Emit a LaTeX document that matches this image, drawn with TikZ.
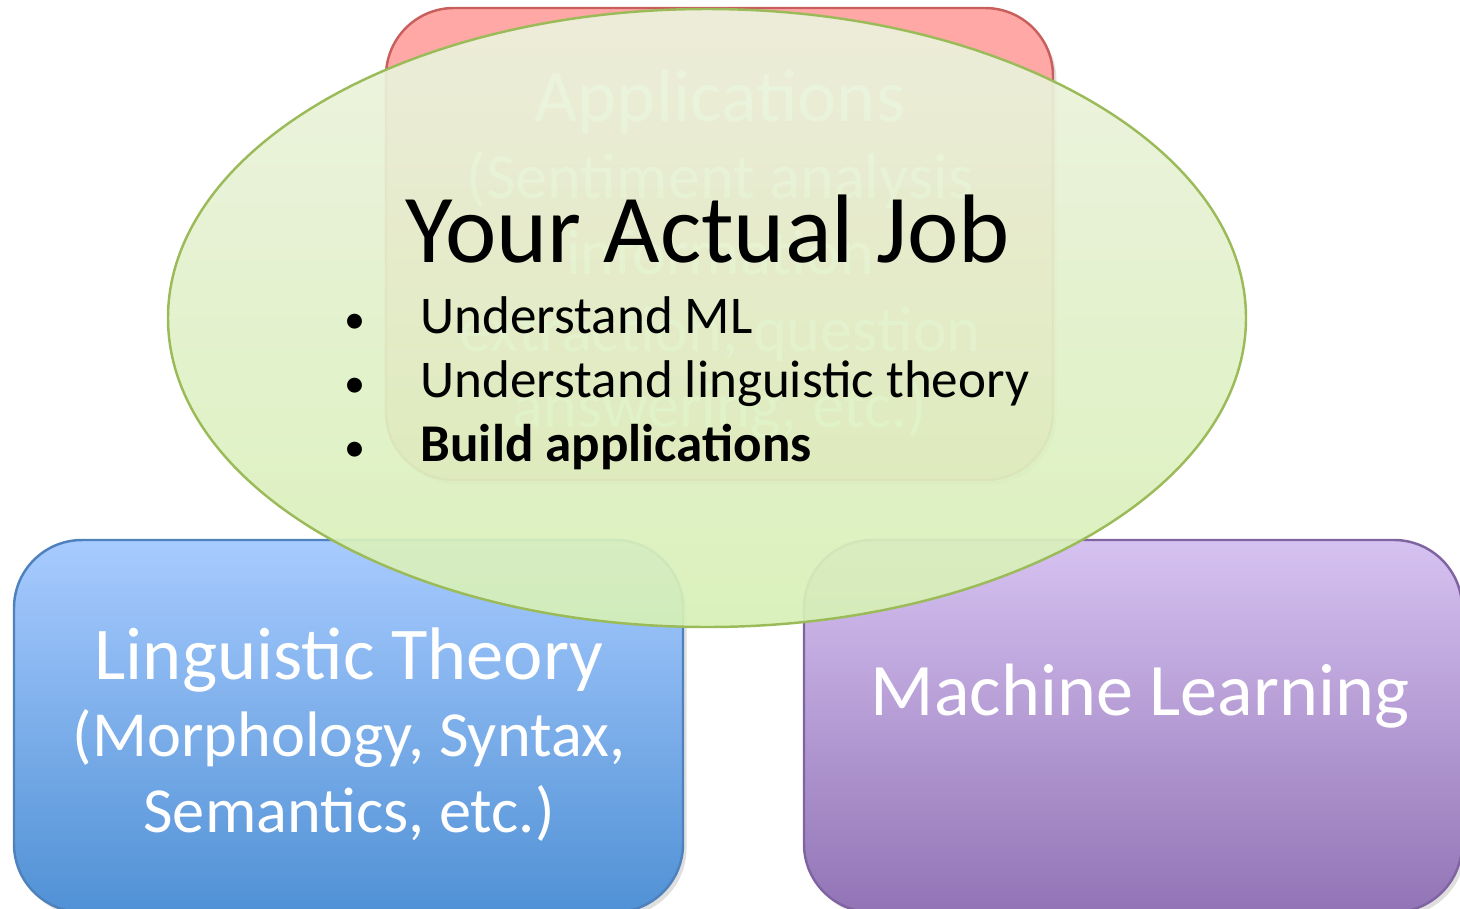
\documentclass[tikz,border=0pt]{standalone}
\usepackage{fontspec}
\setmainfont{Carlito}
\usetikzlibrary{shapes.geometric,shadows}
\definecolor{appred}{RGB}{255,168,166}
\definecolor{appredline}{RGB}{200,95,92}
\definecolor{lingtop}{RGB}{168,203,255}
\definecolor{lingbot}{RGB}{80,145,213}
\definecolor{lingline}{RGB}{79,129,189}
\definecolor{mltop}{RGB}{214,194,241}
\definecolor{mlbot}{RGB}{146,116,182}
\definecolor{mlline}{RGB}{128,100,162}
\definecolor{jobtop}{RGB}{236,242,222}
\definecolor{jobbot}{RGB}{215,240,182}
\definecolor{jobline}{RGB}{155,187,89}
\tikzset{
  area/.style={rectangle, rounded corners=0.68cm, line width=0.7pt, inner sep=0pt,
    drop shadow={shadow xshift=0.35mm, shadow yshift=-0.45mm, opacity=0.25}},
  areatext/.style={text=white, font=\fontsize{18.3}{21.8}\selectfont, align=center, inner sep=0pt},
  jobarea/.style={ellipse, minimum width=10.78cm, minimum height=6.18cm, inner sep=0pt,
    draw=jobline, line width=0.7pt, top color=jobtop, bottom color=jobbot, fill opacity=0.92},
  jobitem/.style={anchor=base west, inner sep=0pt, font=\fontsize{15.1}{18}\selectfont},
  jobbullet/.style={anchor=base, inner sep=0pt, font=\fontsize{12}{18}\selectfont},
}
\newcommand{\areahead}[1]{{\fontsize{21.2}{21.8}\selectfont #1}}
\newcommand{\itemstep}{0.64}

\begin{document}
\begin{tikzpicture}
\useasboundingbox (0,0) rectangle (14.6,9.08);
% the three areas
\node[area, draw=appredline, fill=appred, minimum width=6.67cm, minimum height=4.72cm] (apps) at (7.195,6.64) {};
\node[areatext, anchor=north] (appstext) at (7.20,8.39) {\areahead{Applications}\\(Sentiment analysis\\information\\extraction, question\\answering, etc.)};
\node[area, draw=lingline, top color=lingtop, bottom color=lingbot, minimum width=6.69cm, minimum height=3.72cm] (ling) at (3.485,1.82) {};
\node[areatext, anchor=north] (lingtext) at (3.49,2.81) {\areahead{Linguistic Theory}\\(Morphology, Syntax,\\Semantics, etc.)};
\node[area, draw=mlline, top color=mltop, bottom color=mlbot, minimum width=6.58cm, minimum height=3.72cm] (ml) at (11.33,1.82) {};
\node[areatext, anchor=base, font=\fontsize{21.1}{21.8}\selectfont] (mltext) at (11.40,1.93) {Machine Learning};
% the job on top
\node[jobarea] (job) at (7.07,5.90) {};
\node[anchor=base, inner sep=0pt, font=\fontsize{27.7}{30}\selectfont] (jobtitle) at (7.075,6.46) {Your Actual Job};
\foreach \txt [count=\i] in {Understand ML, Understand linguistic theory, \textbf{Build applications}} {
  \pgfmathsetmacro{\y}{5.75-\itemstep*(\i-1)}
  \node[jobbullet] (bullet\i) at (3.55,\y) {\textbullet};
  \node[jobitem] (item\i) at (4.20,\y) {\txt};
}
\end{tikzpicture}
\end{document}
